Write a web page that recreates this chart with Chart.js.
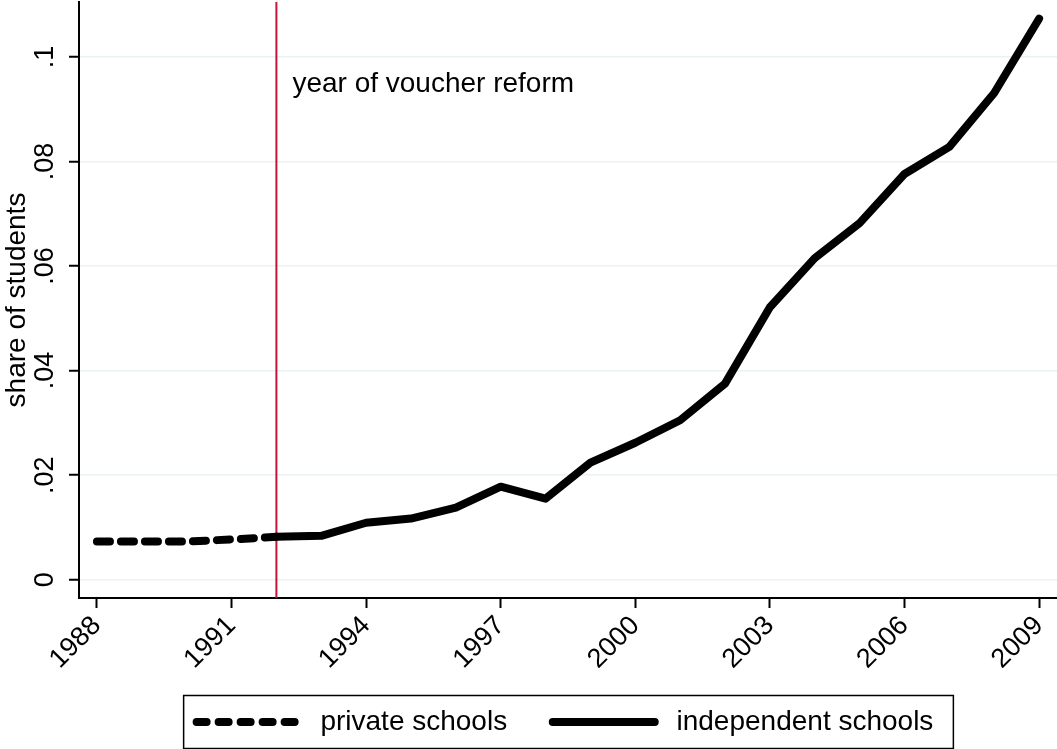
<!DOCTYPE html>
<html>
<head>
<meta charset="utf-8">
<title>Share of students in private and independent schools</title>
<script src="https://cdn.jsdelivr.net/npm/chart.js@4/dist/chart.umd.min.js"></script>
<style>
  html, body { margin: 0; padding: 0; background: #fff; }
  canvas { display: block; }
</style>
</head>
<body>
<canvas id="schoolChart" width="1057" height="749"></canvas>
<script>
// Years on the x axis
const years = [1988, 1989, 1990, 1991, 1992, 1993, 1994, 1995, 1996, 1997, 1998,
  1999, 2000, 2001, 2002, 2003, 2004, 2005, 2006, 2007, 2008, 2009];

// Share of students
const privateShare = [0.0073, 0.0073, 0.0073, 0.0077, 0.0082, null, null, null, null, null, null,
  null, null, null, null, null, null, null, null, null, null, null];
const independentShare = [null, null, null, null, 0.0082, 0.0084, 0.0109, 0.0117, 0.0138, 0.0178, 0.0155,
  0.0224, 0.0262, 0.0305, 0.0375, 0.0521, 0.0615, 0.0682, 0.0776, 0.0828, 0.0931, 0.1073];

// Ticks
const xTickValues = [1988, 1991, 1994, 1997, 2000, 2003, 2006, 2009];
const yTickValues = [0, 0.02, 0.04, 0.06, 0.08, 0.1];
const yTickLabels = ['0', '.02', '.04', '.06', '.08', '.1'];

// Reform marker
const reformYear = 1992;
const reformText = 'year of voucher reform';

const FONT = '"Liberation Sans", Arial, sans-serif';
const LEGEND_SHIFT = -3;
const LEGEND_PAD = 30;
const X_AXIS_HEIGHT = 80;

function toPoints(values) {
  return years.map((yr, i) => ({ x: yr, y: values[i] }));
}

// Vertical line + label for the reform year
const reformLine = {
  id: 'reformLine',
  beforeDatasetsDraw(chart) {
    const { ctx, chartArea, scales } = chart;
    const x = scales.x.getPixelForValue(reformYear);
    ctx.save();
    ctx.strokeStyle = '#c8143c';
    ctx.lineWidth = 2;
    ctx.beginPath();
    ctx.moveTo(x, chartArea.top);
    ctx.lineTo(x, chartArea.bottom);
    ctx.stroke();
    ctx.fillStyle = '#000';
    ctx.font = '28px ' + FONT;
    ctx.textBaseline = 'alphabetic';
    ctx.fillText(reformText, x + 16, scales.y.getPixelForValue(0.1) + 35);
    ctx.restore();
  }
};

// Frame round the legend, like the Stata legend box
const legendFrame = {
  id: 'legendFrame',
  beforeInit(chart) {
    const legend = chart.legend;
    const fit = legend.fit;
    legend.fit = function() {
      fit.call(this);
      this.height = 151 - X_AXIS_HEIGHT;
    };
    const draw = legend.draw;
    legend.draw = function() {
      this.ctx.save();
      this.ctx.translate(LEGEND_SHIFT, 0);
      draw.call(this);
      this.ctx.restore();
    };
  },
  afterDraw(chart) {
    const boxes = chart.legend.legendHitBoxes;
    if (!boxes || !boxes.length) return;
    const first = boxes[0];
    const last = boxes[boxes.length - 1];
    const cy = first.top + first.height / 2;
    const left = first.left + LEGEND_SHIFT - 13;
    const right = last.left + last.width + LEGEND_SHIFT + 20;
    const { ctx } = chart;
    ctx.save();
    ctx.strokeStyle = '#000';
    ctx.lineWidth = 1.5;
    ctx.strokeRect(left, cy - 26.5, right - left, 53);
    ctx.restore();
  }
};

const ctx = document.getElementById('schoolChart').getContext('2d');
new Chart(ctx, {
  type: 'line',
  data: {
    datasets: [
      {
        label: 'private schools',
        data: toPoints(privateShare),
        borderColor: '#000',
        backgroundColor: '#000',
        borderWidth: 8,
        borderDash: [13, 11],
        borderCapStyle: 'round',
        borderJoinStyle: 'round',
        pointRadius: 0,
        tension: 0
      },
      {
        label: 'independent schools',
        data: toPoints(independentShare),
        borderColor: '#000',
        backgroundColor: '#000',
        borderWidth: 8,
        borderCapStyle: 'round',
        borderJoinStyle: 'round',
        pointRadius: 0,
        tension: 0
      }
    ]
  },
  options: {
    responsive: false,
    animation: false,
    layout: { padding: { top: 2, right: 0, bottom: 0, left: 0 } },
    plugins: {
      tooltip: { enabled: false },
      legend: {
        position: 'bottom',
        fullSize: false,
        labels: {
          usePointStyle: true,
          pointStyle: 'line',
          pointStyleWidth: 102,
          padding: LEGEND_PAD,
          color: '#000',
          font: { family: FONT, size: 28 },
          generateLabels(chart) {
            const items = Chart.defaults.plugins.legend.labels.generateLabels(chart);
            items.forEach((item, i) => {
              const ds = chart.data.datasets[item.datasetIndex];
              // small lead-in gap after the sample line, extra gap after the first entry
              item.text = ' ' + item.text + (i < items.length - 1 ? '  ' : '');
              item.lineDash = ds.borderDash ? [10, 12] : [];
              item.lineWidth = 8;
              item.lineCap = 'round';
              item.strokeStyle = '#000';
            });
            return items;
          }
        }
      }
    },
    scales: {
      x: {
        type: 'linear',
        min: 1987.6,
        max: 2009.4,
        afterBuildTicks(scale) {
          scale.ticks = xTickValues.map(v => ({ value: v }));
        },
        afterFit(scale) {
          scale.height = X_AXIS_HEIGHT;
          scale.paddingLeft = 0;
          scale.paddingRight = 0;
        },
        border: { color: '#000', width: 2 },
        grid: { drawOnChartArea: false, tickColor: '#000', tickLength: 10, tickWidth: 2 },
        ticks: {
          autoSkip: false,
          minRotation: 45,
          maxRotation: 45,
          padding: 2,
          color: '#000',
          font: { family: FONT, size: 27 },
          callback: v => String(v)
        }
      },
      y: {
        min: -0.0035,
        max: 0.1105,
        afterBuildTicks(scale) {
          scale.ticks = yTickValues.map(v => ({ value: v }));
        },
        afterFit(scale) {
          scale.width = 79;
          scale.paddingTop = 0;
          scale.paddingBottom = 0;
        },
        border: { color: '#000', width: 2 },
        grid: { color: '#eaf2f3', lineWidth: 1.5, tickColor: '#000', tickLength: 10, tickWidth: 2 },
        title: {
          display: true,
          text: 'share of students',
          color: '#000',
          padding: { top: 0, bottom: 0 },
          font: { family: FONT, size: 28 }
        },
        ticks: {
          minRotation: 90,
          maxRotation: 90,
          crossAlign: 'center',
          padding: 5,
          color: '#000',
          font: { family: FONT, size: 27 },
          callback: (v) => yTickLabels[yTickValues.indexOf(v)]
        }
      }
    }
  },
  plugins: [reformLine, legendFrame]
});
</script>
</body>
</html>
